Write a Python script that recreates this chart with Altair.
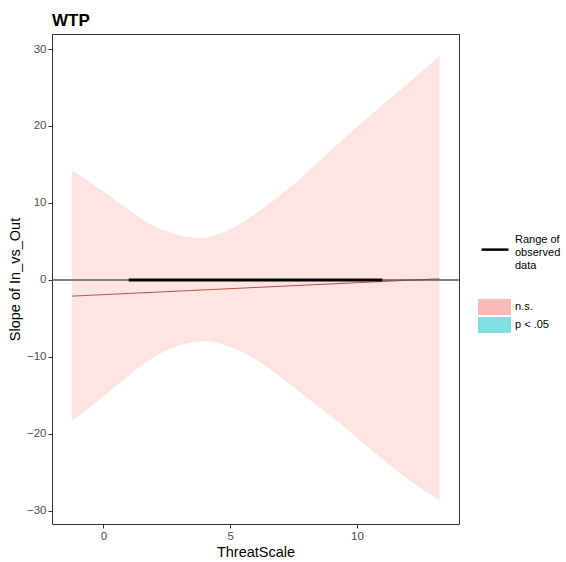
import altair as alt
import pandas as pd

FONT = "Liberation Sans"

# Moderator values and confidence band of the conditional slope
threat = [-1.25, 0, 1, 2, 3, 3.8, 4.5, 5.5, 6.5, 7.5, 8.5, 9.5, 10.5, 11.5, 12.5, 13.26]
ci_upper = [14.3, 11.5, 9.1, 7.0, 5.8, 5.45, 5.9, 7.5, 9.8, 12.4, 15.4, 18.4, 21.3, 24.1, 26.9, 29.1]
ci_lower = [-18.4, -15.1, -12.4, -10.0, -8.5, -8.0, -8.2, -9.4, -11.4, -13.9, -16.5, -19.1, -21.9, -24.6, -27.0, -28.6]

# Estimated slope of In_vs_Out across ThreatScale
slope_x = [-1.25, 13.26]
slope_est = [-2.1, 0.15]

# Observed range of the moderator
observed_start = [1.0]
observed_end = [11.0]

significance = ["n.s.", "p < .05"]
sig_colors = ["#F8766D", "#00BFC4"]
x_ticks = [0, 5, 10]
y_ticks = [-30, -20, -10, 0, 10, 20, 30]

band = pd.DataFrame({"ThreatScale": threat, "upper": ci_upper, "lower": ci_lower,
                     "sig": ["n.s."] * len(threat)})
est = pd.DataFrame({"ThreatScale": slope_x, "slope": slope_est})
obs = pd.DataFrame({"start": observed_start, "end": observed_end,
                    "key": ["Range of|observed|data"]})

x_scale = alt.Scale(domain=[-2.03, 14.03], nice=False, zero=False)
y_scale = alt.Scale(domain=[-31.7, 31.95], nice=False, zero=False)
x_axis = alt.Axis(values=x_ticks, title="ThreatScale")
y_axis = alt.Axis(values=y_ticks, title="Slope of In_vs_Out")

# wide rectangular key for the fill legend
rect_key = "M-2.0625,-1H2.0625V1H-2.0625Z"
# horizontal key line, dropped to sit beside the middle label line
line_key = "M-1,0.75H1"

area = alt.Chart(band).mark_area(opacity=0.2, interpolate="natural").encode(
    x=alt.X("ThreatScale:Q", scale=x_scale, axis=x_axis),
    y=alt.Y("lower:Q", scale=y_scale, axis=y_axis),
    y2="upper:Q",
    fill=alt.Fill("sig:N",
                  scale=alt.Scale(domain=significance, range=sig_colors),
                  legend=alt.Legend(orient="none", legendX=434.5, legendY=265, title=None,
                                    padding=0, symbolType=rect_key, symbolSize=256,
                                    symbolOpacity=0.5, symbolStrokeWidth=0,
                                    labelOffset=12.5, labelFont=FONT, labelFontSize=11,
                                    labelColor="black", rowPadding=2)),
)

line = alt.Chart(est).mark_line(color="#c0504d", strokeWidth=1).encode(
    x=alt.X("ThreatScale:Q", scale=x_scale, title="ThreatScale"),
    y=alt.Y("slope:Q", scale=y_scale, title="Slope of In_vs_Out"),
)

zero = alt.Chart(est).mark_rule(color="#555555", strokeWidth=1.1).encode(
    y=alt.datum(0, scale=y_scale)
)

observed = alt.Chart(obs).mark_rule(strokeWidth=3).encode(
    x=alt.X("start:Q", scale=x_scale, title="ThreatScale"),
    x2="end:Q",
    y=alt.datum(0),
    stroke=alt.Stroke("key:N",
                      scale=alt.Scale(domain=["Range of|observed|data"], range=["black"]),
                      legend=alt.Legend(orient="none", legendX=428, legendY=190.5, title=None,
                                        padding=0, symbolType=line_key, symbolSize=729,
                                        symbolStrokeWidth=2.5, labelOffset=5,
                                        labelExpr="split(datum.label, '|')",
                                        labelFont=FONT, labelFontSize=11,
                                        labelColor="black")),
)

chart = alt.layer(area, line, zero, observed).properties(
    width=407,
    height=490,
    title=alt.Title("WTP", anchor="start", frame="group", fontSize=17, fontWeight="bold",
                    font=FONT, color="black", offset=4),
    autosize=alt.AutoSizeParams(type="none"),
    padding={"left": 52, "top": 34, "right": 107, "bottom": 38},
).configure_view(
    stroke="#333333", strokeWidth=1
).configure_axis(
    domain=False, grid=False, tickColor="#333333", tickSize=4,
    labelColor="#4D4D4D", labelFont=FONT, labelFontSize=11.5, labelPadding=2,
    titleFont=FONT, titleFontSize=14.5, titleFontWeight="normal", titleColor="black",
    titlePadding=4,
)

chart.save("out.html", embed_options={"renderer": "svg", "actions": False})
